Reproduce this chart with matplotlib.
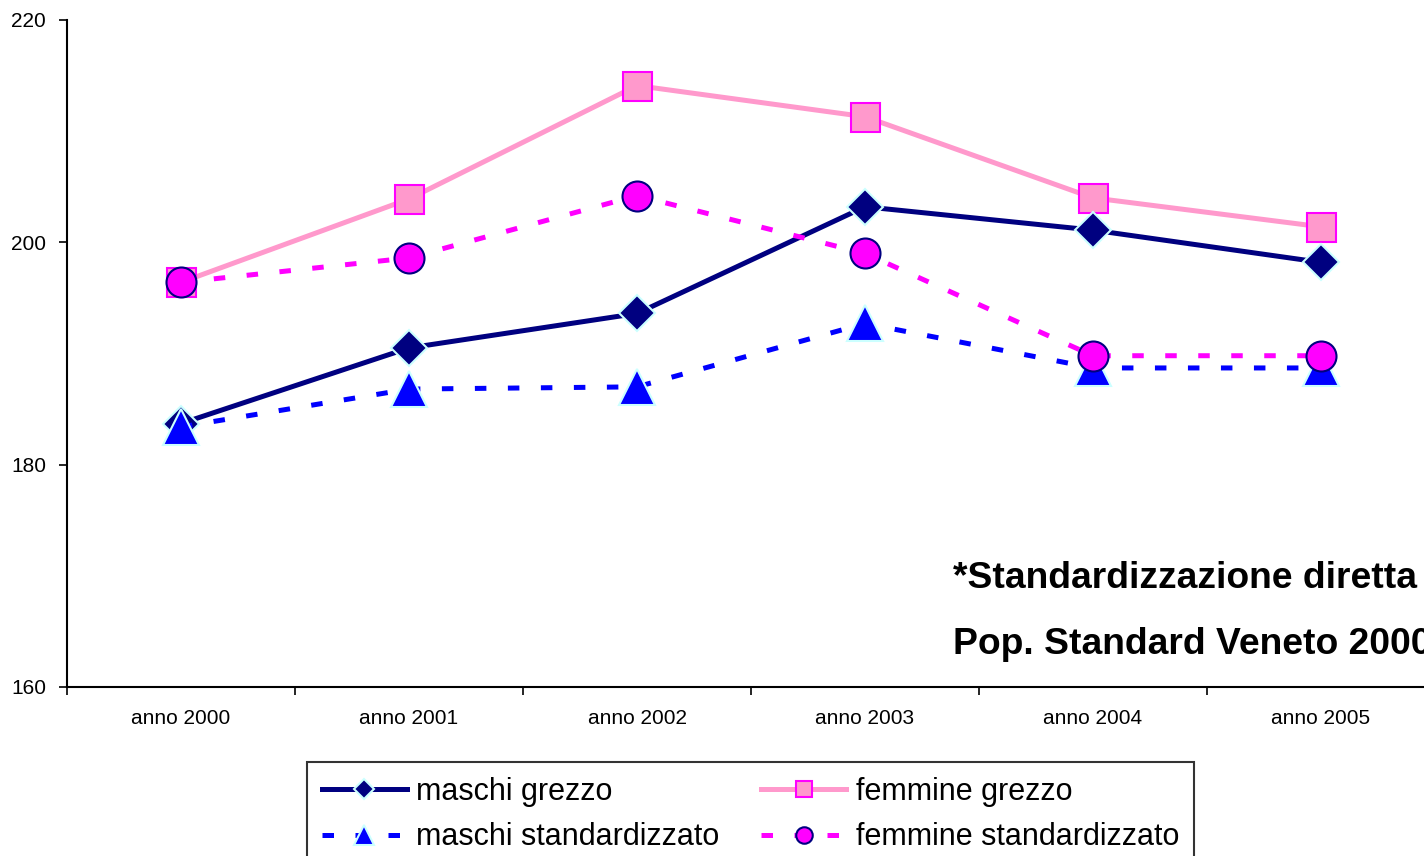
import matplotlib
matplotlib.use("Agg")
import matplotlib.pyplot as plt

plt.rcParams['font.family'] = ['Liberation Sans', 'DejaVu Sans']

categories = ["anno 2000", "anno 2001", "anno 2002", "anno 2003", "anno 2004", "anno 2005"]
maschi_grezzo = [183.7, 190.5, 193.6, 203.2, 201.1, 198.2]
femmine_grezzo = [196.4, 203.9, 214.1, 211.3, 204.0, 201.4]
maschi_std = [183.4, 186.8, 187.0, 192.7, 188.7, 188.7]
femmine_std = [196.4, 198.6, 204.2, 199.0, 189.8, 189.8]
yticks = [160, 180, 200, 220]

W, H = 1424, 856
fig = plt.figure(figsize=(W / 100, H / 100), dpi=100)
ax = fig.add_axes([67 / W, (H - 687) / H, (1435 - 67) / W, (687 - 20) / H])

x = list(range(len(categories)))
px = 72 / 100  # points per pixel

ms_lw = 1.5
l1, = ax.plot(x, maschi_grezzo, color='#000080', lw=5 * px, marker='D',
              markersize=26 * px, markerfacecolor='#000080',
              markeredgecolor='#CCFFFF', markeredgewidth=ms_lw, zorder=4,
              label='maschi grezzo')
l2, = ax.plot(x, femmine_grezzo, color='#FF99CC', lw=5 * px, marker='s',
              markersize=29 * px, markerfacecolor='#FF99CC',
              markeredgecolor='#FF00FF', markeredgewidth=ms_lw, zorder=3,
              label='femmine grezzo')
l3, = ax.plot(x, maschi_std, color='#0000FF', lw=5 * px, marker='^',
              markersize=36 * px, markerfacecolor='#0000FF',
              markeredgecolor='#CCFFFF', markeredgewidth=ms_lw, zorder=5,
              label='maschi standardizzato', dashes=(2.3, 4.3))
l4, = ax.plot(x, femmine_std, color='#FF00FF', lw=5 * px, marker='o',
              markersize=30 * px, markerfacecolor='#FF00FF',
              markeredgecolor='#000080', markeredgewidth=ms_lw, zorder=6,
              label='femmine standardizzato', dashes=(2.3, 4.3))

ax.set_xlim(-0.5, len(categories) - 0.5)
ax.set_ylim(160, 220)
ax.set_yticks(yticks)
ax.set_yticklabels([str(v) for v in yticks], fontsize=15)
ax.set_xticks(x)
ax.set_xticklabels(categories, fontsize=15)
ax.tick_params(axis='x', which='major', length=0, pad=16)
ax.set_xticks([i - 0.5 for i in range(len(categories) + 1)], minor=True)
ax.tick_params(axis='x', which='minor', length=6, width=1.2, direction='out')
ax.tick_params(axis='y', length=6, width=1.2, direction='out', pad=9)
for s in ['top', 'right']:
    ax.spines[s].set_visible(False)
for s in ['left', 'bottom']:
    ax.spines[s].set_linewidth(1.5)
    ax.spines[s].set_color('black')

fig.text(953 / W, 1 - 578 / H, "*Standardizzazione diretta", fontsize=26.8,
         fontweight='bold', va='center', ha='left')
fig.text(953 / W, 1 - 645 / H, "Pop. Standard Veneto 2000", fontsize=26.8,
         fontweight='bold', va='center', ha='left')

leg = fig.legend(handles=[l1, l3, l2, l4], ncol=2, loc='upper left',
                 bbox_to_anchor=(307 / W, 1 - 762 / H), fontsize=22,
                 frameon=True, fancybox=False, handlelength=2.8,
                 handletextpad=0.3, columnspacing=1.35, borderpad=0.48,
                 labelspacing=0.51, borderaxespad=0, markerscale=0.55)
leg.get_frame().set_edgecolor('black')
leg.get_frame().set_linewidth(1.5)

fig.savefig('out.png', dpi=100)
